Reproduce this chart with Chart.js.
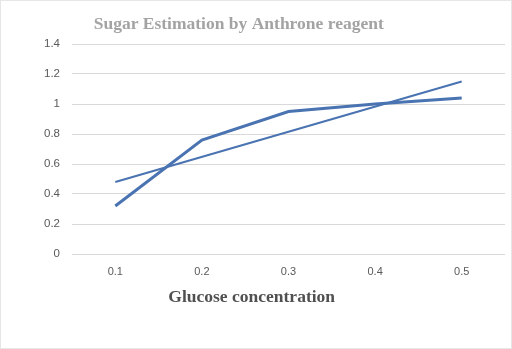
<!DOCTYPE html>
<html>
<head>
<meta charset="utf-8">
<script src="https://cdn.jsdelivr.net/npm/chart.js@4/dist/chart.umd.min.js"></script>
<style>
  html, body { margin: 0; padding: 0; background: #ffffff; }
  #wrap { width: 512px; height: 349px; position: relative; box-sizing: border-box; border: 1px solid #e6e6e6; }
  canvas { display: block; }
</style>
</head>
<body>
<div id="wrap"><canvas id="chart" width="510" height="347"></canvas></div>
<script>
// Glucose concentrations on the x axis
const concentrations = ['0.1', '0.2', '0.3', '0.4', '0.5'];
// Measured absorbance readings
const absorbance = [0.32, 0.76, 0.95, 1.0, 1.04];
// Linear trend line: only its two end points, joined straight across
const trendEnds = [0.48, null, null, null, 1.15];
// Y axis tick values
const yTicks = [0, 0.2, 0.4, 0.6, 0.8, 1, 1.2, 1.4];

const chartTitle = 'Sugar Estimation by Anthrone reagent';
const xTitle = 'Glucose concentration';

const lineBlue = '#4a73b1';

// Draws the chart heading and the x axis caption in serif type
const titlesPlugin = {
  id: 'titles',
  afterDraw(chart) {
    const { ctx, chartArea } = chart;
    ctx.save();
    ctx.textAlign = 'center';
    ctx.textBaseline = 'middle';
    ctx.fillStyle = '#a3a3a3';
    ctx.font = 'bold 17.5px "Liberation Serif", "Times New Roman", serif';
    ctx.fillText(chartTitle, chartArea.left + (chartArea.right - chartArea.left) * 0.385, 23);
    ctx.fillStyle = '#505050';
    ctx.font = 'bold 17.5px "Liberation Serif", "Times New Roman", serif';
    ctx.fillText(xTitle, chartArea.left + (chartArea.right - chartArea.left) * 0.415, chartArea.bottom + 43);
    ctx.restore();
  }
};

new Chart(document.getElementById('chart'), {
  type: 'line',
  data: {
    labels: concentrations,
    datasets: [
      {
        data: absorbance,
        borderColor: lineBlue,
        borderWidth: 3,
        pointRadius: 0,
        tension: 0,
        fill: false
      },
      {
        data: trendEnds,
        borderColor: lineBlue,
        borderWidth: 2,
        pointRadius: 0,
        tension: 0,
        spanGaps: true,
        fill: false
      }
    ]
  },
  options: {
    responsive: false,
    animation: false,
    layout: { padding: { top: 43, right: 6, bottom: 0, left: 0 } },
    plugins: {
      legend: { display: false },
      tooltip: { enabled: false }
    },
    scales: {
      x: {
        offset: true,
        grid: { display: false, drawTicks: false },
        border: { display: false },
        ticks: {
          color: '#595959',
          font: { family: '"Liberation Sans", Arial, sans-serif', size: 11 },
          padding: 11
        },
        afterFit(scale) { scale.height = 94; }
      },
      y: {
        min: 0,
        max: 1.4,
        afterBuildTicks(scale) { scale.ticks = yTicks.map(v => ({ value: v })); },
        grid: { color: '#d9d9d9', lineWidth: 1, drawTicks: false },
        border: { display: false },
        ticks: {
          color: '#595959',
          font: { family: '"Liberation Sans", Arial, sans-serif', size: 11.5 },
          padding: 12,
          callback: v => String(v)
        },
        afterFit(scale) { scale.width = 71; }
      }
    }
  },
  plugins: [titlesPlugin]
});
</script>
</body>
</html>
